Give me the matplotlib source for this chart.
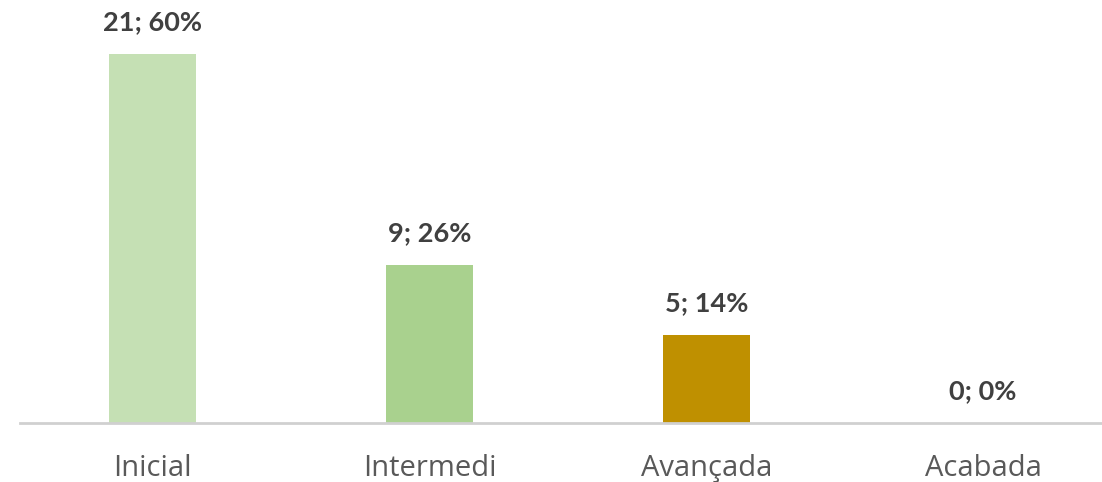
import matplotlib
matplotlib.use("Agg")
import matplotlib.pyplot as plt

categories = ["Inicial", "Intermedi", "Avançada", "Acabada"]
counts = [21, 9, 5, 0]
percents = [60, 26, 14, 0]
colors = ["#c5e0b4", "#a9d18e", "#bf9000", "#548235"]

plt.rcParams['font.family'] = ['Lato', 'DejaVu Sans']

fig = plt.figure(figsize=(11.02, 4.82), dpi=100)
ax = fig.add_axes([20/1102, 59/482, 1082/1102, 423/482])

x = list(range(len(categories)))
ax.bar(x, counts, width=0.315, color=colors, zorder=2)
ax.set_xlim(-0.48, 3.43)
ax.set_ylim(0, 24.07)

for xi, c, p in zip(x, counts, percents):
    ax.annotate(f"{c}; {p}%", (xi, c), xytext=(0, 17), textcoords="offset points",
                ha="center", va="baseline", fontsize=19.5, fontweight="bold", color="#404040")

for s in ["top", "right", "left"]:
    ax.spines[s].set_visible(False)
ax.spines["bottom"].set_color("#d0d0d0")
ax.spines["bottom"].set_linewidth(2)
ax.set_yticks([])
ax.set_xticks(x)
ax.set_xticklabels(categories, fontsize=21, color="#595959", family=['Open Sans', 'DejaVu Sans'])
ax.tick_params(axis="x", length=0, pad=22)

fig.savefig("out.png", dpi=100)
